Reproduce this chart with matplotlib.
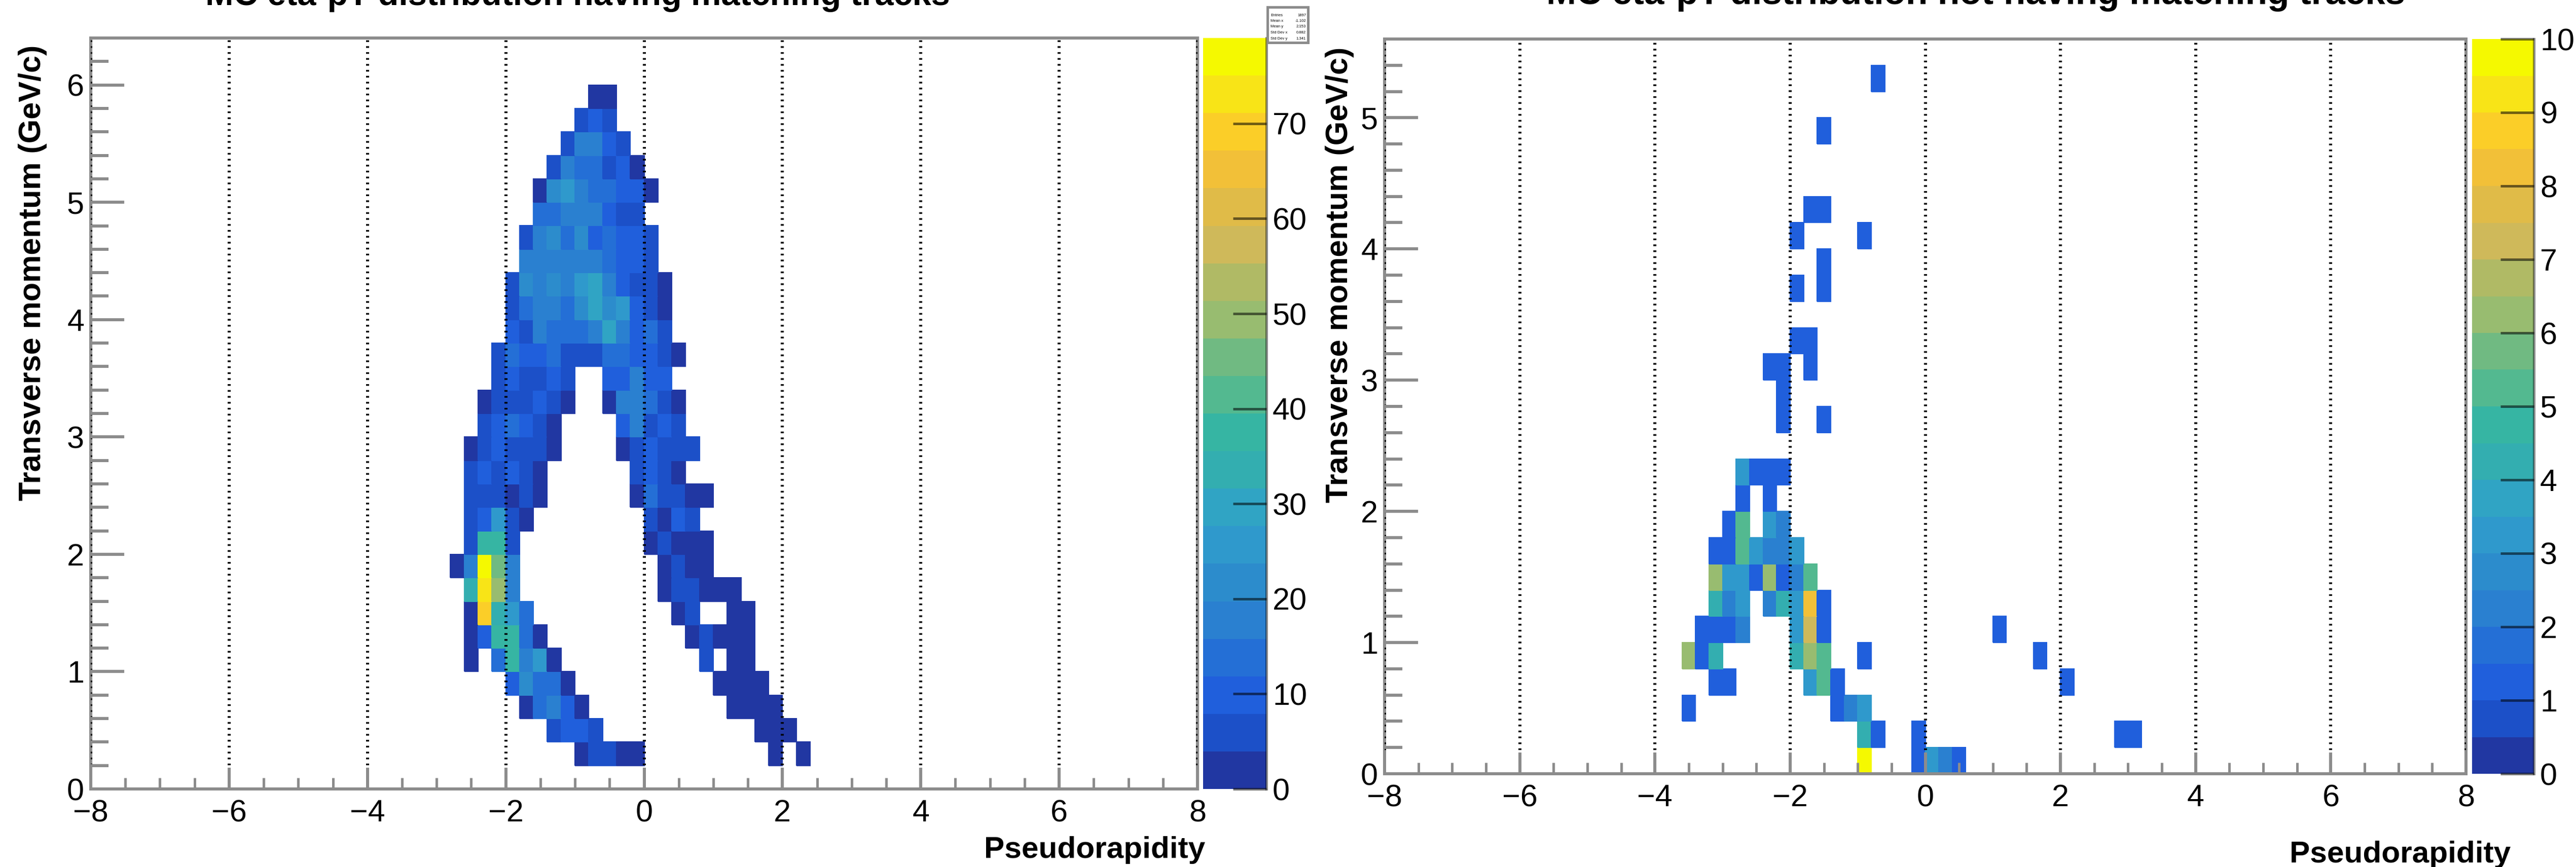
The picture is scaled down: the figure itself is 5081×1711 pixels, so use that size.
import numpy as np
import matplotlib
matplotlib.use('Agg')
import matplotlib.pyplot as plt
from matplotlib.colors import ListedColormap, BoundaryNorm
from matplotlib.patches import Rectangle
from matplotlib.ticker import MultipleLocator

plt.rcParams['font.family'] = ['Liberation Sans', 'DejaVu Sans']

W, H = 5081, 1711
PX = 0.72  # one pixel in points at dpi 100
GRAY = '#8c8c8c'

# 20 contour levels, bottom to top
band_colors = ['#2137a2', '#1c50c8', '#205fdc', '#246fd6', '#2a80d0',
               '#2c8ccc', '#2f99cc', '#30a4c4', '#33aeb0', '#36b5a3',
               '#53b990', '#70ba82', '#98bc70', '#b0ba65', '#cfb95a',
               '#e0bb48', '#f2c038', '#fbce28', '#f8e417', '#f5f900']

title_left = 'MC eta-pT distribution having matching tracks'
title_right = 'MC eta-pT distribution not having matching tracks'
x_title = 'Pseudorapidity'
y_title = 'Transverse momentum (GeV/c)'

left_zmax = 79
right_zmax = 10
left_cbar_ticks = [0, 10, 20, 30, 40, 50, 60, 70]
right_cbar_ticks = [0, 1, 2, 3, 4, 5, 6, 7, 8, 9, 10]

stats_names = ['Entries', 'Mean x', 'Mean y', 'Std Dev x', 'Std Dev y']
stats_values = ['1897', '-1.102', '2.153', '0.882', '1.341']

# (pT bin low edge, eta of first bin, counts), bins are 0.2 wide
left_rows = [
    (5.8, -0.8, [2, 2]),
    (5.6, -1.0, [6, 10, 6]),
    (5.4, -1.2, [6, 18, 18, 10, 6]),
    (5.2, -1.4, [6, 18, 14, 14, 6, 10, 2]),
    (5.0, -1.6, [2, 22, 26, 18, 14, 14, 10, 8, 2]),
    (4.8, -1.6, [14, 14, 18, 18, 18, 10, 6, 6]),
    (4.6, -1.8, [6, 18, 22, 14, 22, 10, 14, 10, 10, 6]),
    (4.4, -1.8, [18, 18, 18, 18, 18, 18, 14, 10, 10, 6]),
    (4.2, -2.0, [6, 22, 18, 20, 18, 24, 30, 18, 10, 6, 6, 2]),
    (4.0, -2.0, [6, 14, 18, 18, 14, 22, 30, 22, 26, 10, 6, 2]),
    (3.8, -2.0, [10, 6, 18, 14, 14, 14, 18, 30, 18, 10, 14, 6]),
    (3.6, -2.2, [6, 14, 10, 10, 14, 6, 6, 6, 14, 14, 10, 10, 6, 2]),
    (3.4, -2.2, [6, 10, 6, 6, 10, 6]),
    (3.4, -0.6, [10, 10, 18, 10, 10]),
    (3.2, -2.4, [2, 6, 6, 6, 10, 6, 2]),
    (3.2, -0.6, [2, 18, 18, 14, 6, 2]),
    (3.0, -2.4, [6, 10, 14, 10, 6, 2]),
    (3.0, -0.4, [10, 18, 6, 10, 6]),
    (2.8, -2.6, [2, 6, 10, 6, 6, 6, 2]),
    (2.8, -0.4, [2, 6, 10, 6, 6, 6]),
    (2.6, -2.6, [6, 8, 6, 10, 6, 2]),
    (2.6, -0.2, [6, 10, 6, 2]),
    (2.4, -2.6, [6, 6, 6, 2, 6, 2]),
    (2.4, -0.2, [2, 14, 6, 6, 2, 2]),
    (2.2, -2.6, [6, 10, 26, 6, 2]),
    (2.2, 0.0, [6, 2, 10, 6]),
    (2.0, -2.6, [6, 38, 38, 6]),
    (2.0, 0.0, [2, 6, 2, 2, 2]),
    (1.8, -2.8, [2, 18, 77, 46, 18]),
    (1.8, 0.2, [2, 6, 2, 2]),
    (1.6, -2.6, [34, 73, 50, 18]),
    (1.6, 0.2, [2, 6, 6, 2, 2, 2]),
    (1.4, -2.6, [2, 69, 34, 26, 14]),
    (1.4, 0.4, [2, 6]),
    (1.4, 1.2, [2, 2]),
    (1.2, -2.6, [2, 10, 38, 38, 14, 2]),
    (1.2, 0.6, [2, 6, 2, 2, 2]),
    (1.0, -2.6, [2]),
    (1.0, -2.2, [14, 38, 18, 26, 2]),
    (1.0, 0.8, [6]),
    (1.0, 1.2, [2, 2]),
    (0.8, -2.0, [10, 22, 14, 14, 2]),
    (0.8, 1.0, [2, 2, 2, 2]),
    (0.6, -1.8, [2, 14, 18, 10, 2]),
    (0.6, 1.2, [2, 2, 2, 2]),
    (0.4, -1.4, [6, 10, 10, 6]),
    (0.4, 1.6, [2, 2, 2]),
    (0.2, -1.0, [2, 6, 6, 2, 2]),
    (0.2, 1.8, [2]),
    (0.2, 2.2, [2]),
]

right_rows = [
    (5.2, -0.8, [1]),
    (4.8, -1.6, [1]),
    (4.2, -1.8, [1, 1]),
    (4.0, -2.0, [1]),
    (4.0, -1.0, [1]),
    (3.8, -1.6, [1]),
    (3.6, -2.0, [1]),
    (3.6, -1.6, [1]),
    (3.2, -2.0, [1, 1]),
    (3.0, -2.4, [1, 1]),
    (3.0, -1.8, [1]),
    (2.8, -2.2, [1]),
    (2.6, -2.2, [1]),
    (2.6, -1.6, [1]),
    (2.2, -2.8, [3, 1, 1, 1]),
    (2.0, -2.8, [1]),
    (2.0, -2.4, [1]),
    (1.8, -3.0, [1, 5]),
    (1.8, -2.4, [3, 2]),
    (1.6, -3.2, [1, 1, 5, 3, 2, 2, 3]),
    (1.4, -3.2, [6, 3, 3, 1, 6, 1, 2, 5]),
    (1.2, -3.2, [4, 2, 3]),
    (1.2, -2.4, [2, 4, 3, 8, 1]),
    (1.0, -3.4, [1, 1, 1, 2]),
    (1.0, -2.0, [3, 7, 1]),
    (1.0, 1.0, [1]),
    (0.8, -3.6, [6, 1, 4]),
    (0.8, -2.0, [4, 6, 5]),
    (0.8, -1.0, [1]),
    (0.8, 1.6, [1]),
    (0.6, -3.2, [1, 1]),
    (0.6, -1.8, [3, 5, 1]),
    (0.6, 2.0, [1]),
    (0.4, -3.6, [1]),
    (0.4, -1.4, [1, 2, 3]),
    (0.2, -1.0, [4, 1]),
    (0.2, -0.2, [1]),
    (0.2, 2.8, [1, 1]),
    (0.0, -1.0, [10]),
    (0.0, -0.2, [1, 3, 2, 1]),
]


def fig_x(px):
    return px / W


def fig_y(px):
    return 1 - px / H


def px_axes(x0, y0, x1, y1):
    return fig.add_axes([fig_x(x0), fig_y(y1), (x1 - x0) / W, (y1 - y0) / H])


def fill_hist(rows, ymax):
    eta_edges = np.arange(-8, 8.01, 0.2)
    pt_edges = np.arange(0, ymax + 0.01, 0.2)
    z = np.full((len(pt_edges) - 1, len(eta_edges) - 1), np.nan)
    for pt, eta, counts in rows:
        j = int(round(pt / 0.2))
        i = int(round((eta + 8) / 0.2))
        z[j, i:i + len(counts)] = counts
    return eta_edges, pt_edges, np.ma.masked_invalid(z)


def draw_panel(rows, box, ymax, zmax, cbar_box, cbar_ticks):
    ax = px_axes(*box)
    cmap = ListedColormap(band_colors)
    norm = BoundaryNorm(np.linspace(0, zmax, 21), 20, clip=True)
    eta_edges, pt_edges, z = fill_hist(rows, ymax)
    mesh = ax.pcolormesh(eta_edges, pt_edges, z, cmap=cmap, norm=norm, edgecolor='face', linewidth=0.3)
    ax.set_xlim(-8, 8)
    ax.set_ylim(0, ymax)

    ax.xaxis.set_major_locator(MultipleLocator(2))
    ax.xaxis.set_minor_locator(MultipleLocator(0.5))
    ax.yaxis.set_major_locator(MultipleLocator(1))
    ax.yaxis.set_minor_locator(MultipleLocator(0.2))
    ax.tick_params(axis='x', which='major', direction='in', length=42 * PX, width=6 * PX,
                   color=GRAY, labelsize=44, pad=20 * PX)
    ax.tick_params(axis='x', which='minor', direction='in', length=22 * PX, width=5 * PX, color=GRAY)
    ax.tick_params(axis='y', which='major', direction='in', length=66 * PX, width=6 * PX,
                   color=GRAY, labelsize=44, pad=13 * PX)
    ax.tick_params(axis='y', which='minor', direction='in', length=35 * PX, width=6 * PX, color=GRAY)
    ax.set_axisbelow(False)
    ax.grid(True, axis='x', which='major', color=(0, 0, 0, 0.38), linewidth=6 * PX,
            linestyle=(0, (0.55, 1.4)))
    grid = ax.get_xgridlines()
    grid[0].set_visible(False)
    grid[-1].set_visible(False)
    for spine in ax.spines.values():
        spine.set_color(GRAY)
        spine.set_linewidth(6 * PX)

    cax = px_axes(*cbar_box)
    cb = fig.colorbar(mesh, cax=cax, ticks=cbar_ticks)
    cb.outline.set_visible(False)
    cb.ax.minorticks_off()
    cb.ax.tick_params(direction='in', length=66 * PX, width=5 * PX, color=(0, 0, 0, 0.55),
                      labelsize=44, pad=12 * PX)
    cb.ax.plot([1, 1], [0, 1], transform=cb.ax.transAxes, color=(0, 0, 0, 0.45),
               linewidth=5 * PX, clip_on=False)
    return ax


fig = plt.figure(figsize=(W / 100, H / 100), dpi=100)

draw_panel(left_rows, (179, 75, 2362, 1557), 6.4, left_zmax, (2373, 75, 2498, 1557), left_cbar_ticks)
draw_panel(right_rows, (2731, 77, 4864, 1527), 5.6, right_zmax, (4876, 77, 4998, 1527), right_cbar_ticks)

# titles run off the top edge of the screenshot
fig.text(fig_x(1139), fig_y(10), title_left, fontsize=48, fontweight='bold', ha='center', va='baseline')
fig.text(fig_x(3897), fig_y(8), title_right, fontsize=51, fontweight='bold', ha='center', va='baseline')

fig.text(fig_x(2377), fig_y(1693), x_title, fontsize=43.5, fontweight='bold', ha='right', va='baseline')
fig.text(fig_x(4952), fig_y(1702), x_title, fontsize=43.5, fontweight='bold', ha='right', va='baseline')

fig.text(fig_x(80), fig_y(988), y_title, fontsize=44, fontweight='bold', rotation=90,
         rotation_mode='anchor', ha='left', va='baseline')
fig.text(fig_x(2658), fig_y(992), y_title, fontsize=44, fontweight='bold', rotation=90,
         rotation_mode='anchor', ha='left', va='baseline')

# small stats box, sits over the top of the left colour bar
fig.add_artist(Rectangle((fig_x(2500), fig_y(84)), 80 / W, 70 / H, transform=fig.transFigure,
                         facecolor='white', edgecolor=GRAY, linewidth=5 * PX))
for k, (name, val) in enumerate(zip(stats_names, stats_values)):
    y = 30 + k * 11.5
    fig.text(fig_x(2506), fig_y(y), name, fontsize=5.5, va='center', ha='left')
    fig.text(fig_x(2576), fig_y(y), val, fontsize=5.5, va='center', ha='right')

fig.savefig('out.png', dpi=100)
